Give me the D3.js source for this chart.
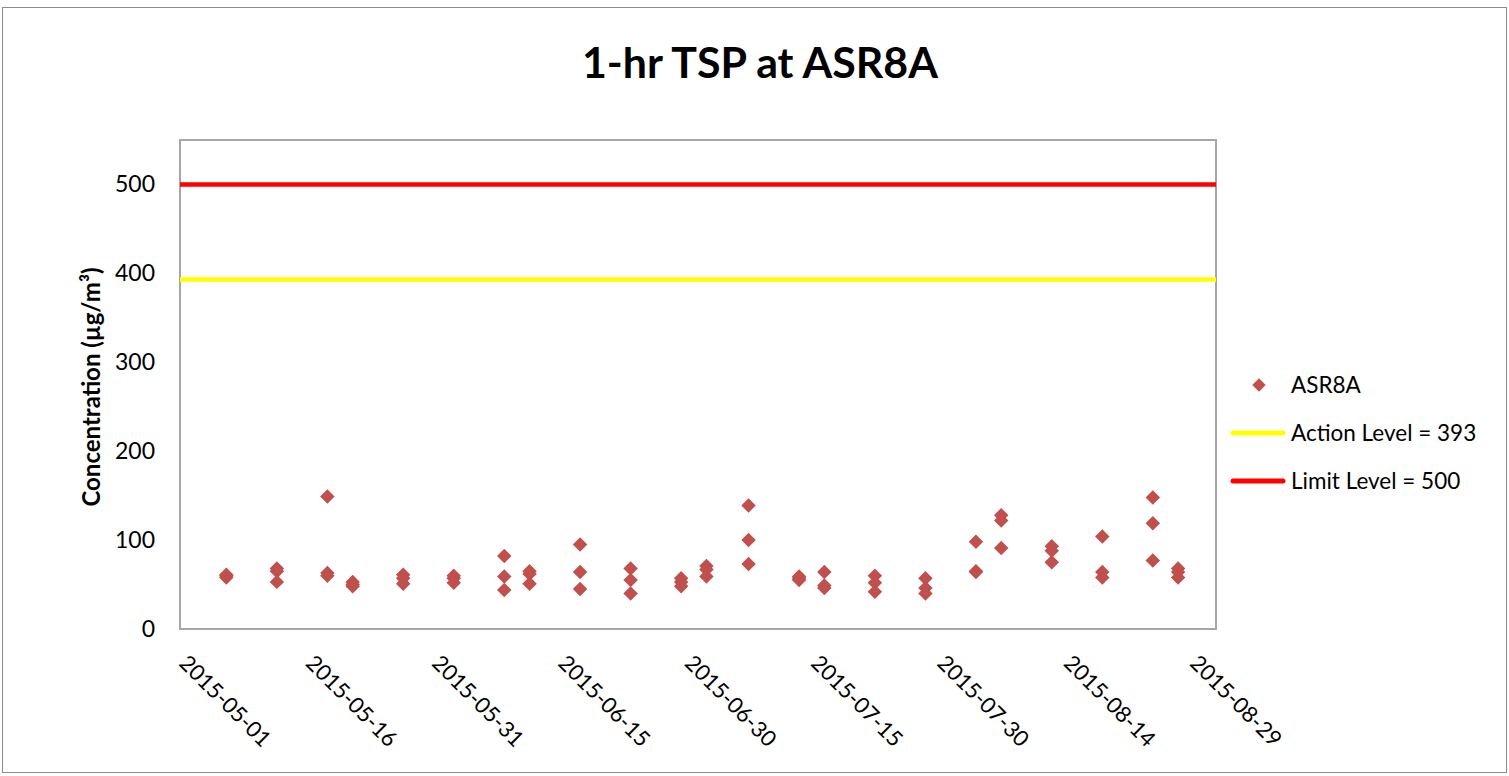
<!DOCTYPE html>
<html>
<head>
<meta charset="utf-8">
<script src="https://cdn.jsdelivr.net/npm/d3@7"></script>
<style>
body { margin: 0; background: #fff; }
text { font-family: Lato, "Liberation Sans", sans-serif; fill: #000; }
</style>
</head>
<body>
<script>
// sampling days, 3 one-hour readings per day (ug/m3)
var sampleDates = ["2015-05-06", "2015-05-12", "2015-05-18", "2015-05-21", "2015-05-27",
  "2015-06-02", "2015-06-08", "2015-06-11", "2015-06-17", "2015-06-23", "2015-06-29",
  "2015-07-02", "2015-07-07", "2015-07-13", "2015-07-16", "2015-07-22", "2015-07-28",
  "2015-08-03", "2015-08-06", "2015-08-12", "2015-08-18", "2015-08-24", "2015-08-27"];
var reading1 = [58, 68, 149, 53, 61, 60, 82, 65, 95, 68, 57, 71, 139, 59, 64, 60, 57, 98, 128, 93, 104, 148, 68];
var reading2 = [60, 65, 63, 50, 57, 57, 59, 62, 64, 55, 53, 67, 100, 57, 49, 52, 46, 64, 122, 88, 64, 119, 64];
var reading3 = [61, 53, 60, 48, 51, 52, 44, 51, 45, 40, 48, 59, 73, 55, 46, 42, 40, 65, 91, 75, 58, 77, 58];

var tickDates = ["2015-05-01", "2015-05-16", "2015-05-31", "2015-06-15", "2015-06-30",
  "2015-07-15", "2015-07-30", "2015-08-14", "2015-08-29"];
var yTicks = [0, 100, 200, 300, 400, 500];
var actionLevel = 393;
var limitLevel = 500;

var w = 1509;
var h = 776;
var plotLeft = 180, plotRight = 1216, plotTop = 140, plotBottom = 629;
var markerColor = "#C0504D";

var parse = d3.timeParse("%Y-%m-%d");

var points = [];
sampleDates.forEach(function(d, i) {
  var day = d3.timeHour.offset(parse(d), 12);
  [reading1[i], reading2[i], reading3[i]].forEach(function(v) {
    points.push({date: day, value: v});
  });
});

var x = d3.scaleTime()
  .domain([parse("2015-05-01"), parse("2015-09-01")])
  .range([plotLeft, plotRight]);

var y = d3.scaleLinear()
  .domain([0, 550])
  .range([plotBottom, plotTop]);

var svg = d3.select("body")
  .append("svg")
  .attr("width", w)
  .attr("height", h);

// outer chart border
svg.append("rect")
  .attr("x", 2.5)
  .attr("y", 7.5)
  .attr("width", w - 5)
  .attr("height", h - 11)
  .attr("fill", "#fff")
  .attr("stroke", "#8c8c8c")
  .attr("stroke-width", 1);

// plot frame
svg.append("rect")
  .attr("x", plotLeft)
  .attr("y", plotTop)
  .attr("width", plotRight - plotLeft)
  .attr("height", plotBottom - plotTop)
  .attr("fill", "none")
  .attr("stroke", "#a6a6a6")
  .attr("stroke-width", 2);

svg.append("text")
  .attr("x", 760)
  .attr("y", 78)
  .attr("text-anchor", "middle")
  .attr("font-weight", "bold")
  .attr("font-size", 42)
  .attr("textLength", 356)
  .attr("lengthAdjust", "spacingAndGlyphs")
  .text("1-hr TSP at ASR8A");

// y axis
var yAxis = svg.append("g")
  .attr("transform", "translate(" + plotLeft + ",0)")
  .call(d3.axisLeft(y).tickValues(yTicks).tickSize(0).tickPadding(25));
yAxis.select(".domain").remove();
yAxis.selectAll("text")
  .attr("font-size", 23)
  .style("font-family", "Lato, 'Liberation Sans', sans-serif");

svg.append("text")
  .attr("transform", "translate(100,387) rotate(-90)")
  .attr("text-anchor", "middle")
  .attr("font-weight", "bold")
  .attr("font-size", 24)
  .text("Concentration (µg/m³)");

// x axis
var xAxis = svg.append("g")
  .attr("transform", "translate(0," + plotBottom + ")")
  .call(d3.axisBottom(x)
    .tickValues(tickDates.map(parse))
    .tickSize(0)
    .tickFormat(d3.timeFormat("%Y-%m-%d")));
xAxis.select(".domain").remove();
xAxis.selectAll("text")
  .attr("x", 0)
  .attr("y", 0)
  .attr("dy", "0.35em")
  .attr("text-anchor", "start")
  .attr("transform", "translate(3,30) rotate(45)")
  .attr("font-size", 22)
  .style("font-family", "Lato, 'Liberation Sans', sans-serif");

// level lines
svg.append("line")
  .attr("x1", plotLeft).attr("x2", plotRight)
  .attr("y1", y(actionLevel)).attr("y2", y(actionLevel))
  .attr("stroke", "#FFFF00")
  .attr("stroke-width", 4.5);

svg.append("line")
  .attr("x1", plotLeft).attr("x2", plotRight)
  .attr("y1", y(limitLevel)).attr("y2", y(limitLevel))
  .attr("stroke", "#FF0000")
  .attr("stroke-width", 4.5);

// rotated square = Excel diamond marker
var diamond = d3.symbol().type(d3.symbolSquare).size(105);

svg.selectAll(".pt")
  .data(points)
  .enter()
  .append("path")
  .attr("class", "pt")
  .attr("d", diamond)
  .attr("transform", function(d) {
    return "translate(" + x(d.date) + "," + y(d.value) + ") rotate(45)";
  })
  .attr("fill", markerColor);

// legend
var legend = svg.append("g");

legend.append("path")
  .attr("d", d3.symbol().type(d3.symbolSquare).size(90))
  .attr("transform", "translate(1259,385) rotate(45)")
  .attr("fill", markerColor);

legend.append("text")
  .attr("x", 1291).attr("y", 393)
  .attr("font-size", 22.5)
  .text("ASR8A");

legend.append("line")
  .attr("x1", 1233).attr("x2", 1283)
  .attr("y1", 433).attr("y2", 433)
  .attr("stroke", "#FFFF00")
  .attr("stroke-width", 5)
  .attr("stroke-linecap", "round");

legend.append("text")
  .attr("x", 1291).attr("y", 441)
  .attr("font-size", 22.5)
  .text("Action Level = 393");

legend.append("line")
  .attr("x1", 1233).attr("x2", 1283)
  .attr("y1", 481).attr("y2", 481)
  .attr("stroke", "#FF0000")
  .attr("stroke-width", 5)
  .attr("stroke-linecap", "round");

legend.append("text")
  .attr("x", 1291).attr("y", 489)
  .attr("font-size", 22.5)
  .text("Limit Level = 500");
</script>
</body>
</html>
